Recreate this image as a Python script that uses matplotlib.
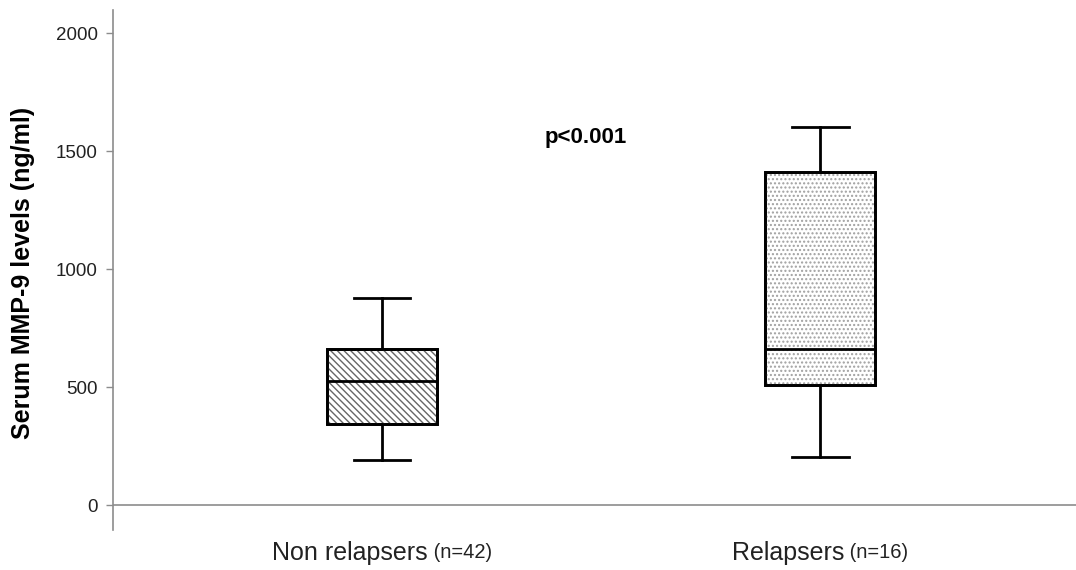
import numpy as np
import matplotlib.pyplot as plt
from matplotlib.patches import PathPatch

# box plot summary values (ng/ml)
groups = ["Non relapsers", "Relapsers"]
group_n = ["(n=42)", "(n=16)"]
whisker_low = [191, 203]
q1 = [343, 508]
median = [525, 661]
q3 = [661, 1411]
whisker_high = [877, 1602]
hatches = ["\\" * 5, "." * 4]
yticks = [0, 500, 1000, 1500, 2000]

plt.rcParams['font.family'] = ['Liberation Sans', 'DejaVu Sans']
plt.rcParams['hatch.linewidth'] = 1.0

fig = plt.figure(figsize=(10.76, 5.70), dpi=100)
ax = fig.add_axes([0.105, 0.07, 0.895, 0.912])

stats = []
for i in range(len(groups)):
    stats.append({'whislo': whisker_low[i], 'q1': q1[i], 'med': median[i],
                  'q3': q3[i], 'whishi': whisker_high[i], 'fliers': [],
                  'label': groups[i]})

positions = np.arange(1, len(groups) + 1)
bp = ax.bxp(stats, positions=positions, widths=0.25, patch_artist=True,
            showfliers=False,
            boxprops=dict(facecolor='white', edgecolor='black', linewidth=2),
            medianprops=dict(color='black', linewidth=2),
            whiskerprops=dict(color='black', linewidth=2),
            capprops=dict(color='black', linewidth=2),
            capwidths=0.13)

hatch_cols = ['#666666', '#a0a0a0']
for box, h, hc in zip(bp['boxes'], hatches, hatch_cols):
    box.set_zorder(2)
    hp = PathPatch(box.get_path(), transform=box.get_transform(),
                   facecolor='none', edgecolor=hc, hatch=h,
                   linewidth=0, zorder=2.5)
    ax.add_patch(hp)
    ol = PathPatch(box.get_path(), transform=box.get_transform(),
                   facecolor='none', edgecolor='black', linewidth=2, zorder=3)
    ax.add_patch(ol)
for m in bp['medians']:
    m.set_zorder(4)

ax.set_xlim(0.386, 2.584)
ax.set_ylim(-106, 2097)
ax.axhline(0, color='#8c8c8c', linewidth=1.2, zorder=1)

for s in ['top', 'right', 'bottom']:
    ax.spines[s].set_visible(False)
ax.spines['left'].set_color('#8c8c8c')
ax.spines['left'].set_linewidth(1.2)

ax.set_yticks(yticks)
ax.set_yticklabels([str(t) for t in yticks], fontsize=13.5, color='#222222')
ax.tick_params(axis='y', direction='out', length=5, color='#8c8c8c', width=1, pad=6)
ax.set_xticks([])

fig.text(23 / 1076, 1 - 273 / 570, "Serum MMP-9 levels (ng/ml)", fontsize=18,
         fontweight='bold', rotation=90, ha='center', va='center')

ax.text(1.466, 1559, "p<0.001", fontsize=16, fontweight='bold', ha='center', va='center')

# x category labels: main name plus smaller n
fig.canvas.draw()
renderer = fig.canvas.get_renderer()
for x, name, n in zip(positions, groups, group_n):
    t1 = ax.text(0, 0, name, fontsize=18)
    t2 = ax.text(0, 0, " " + n, fontsize=14.5)
    w1 = t1.get_window_extent(renderer).width
    w2 = t2.get_window_extent(renderer).width
    t1.remove()
    t2.remove()
    total = w1 + w2
    xa = ax.transData.transform((x, 0))[0]
    ya = 570 - 553
    start = xa - total / 2
    fig.text(start / 1076, ya / 570, name, fontsize=18, va='center', color='#222222')
    fig.text((start + w1) / 1076, ya / 570, " " + n, fontsize=14.5, va='center', color='#222222')

fig.savefig("out.png", dpi=100)
